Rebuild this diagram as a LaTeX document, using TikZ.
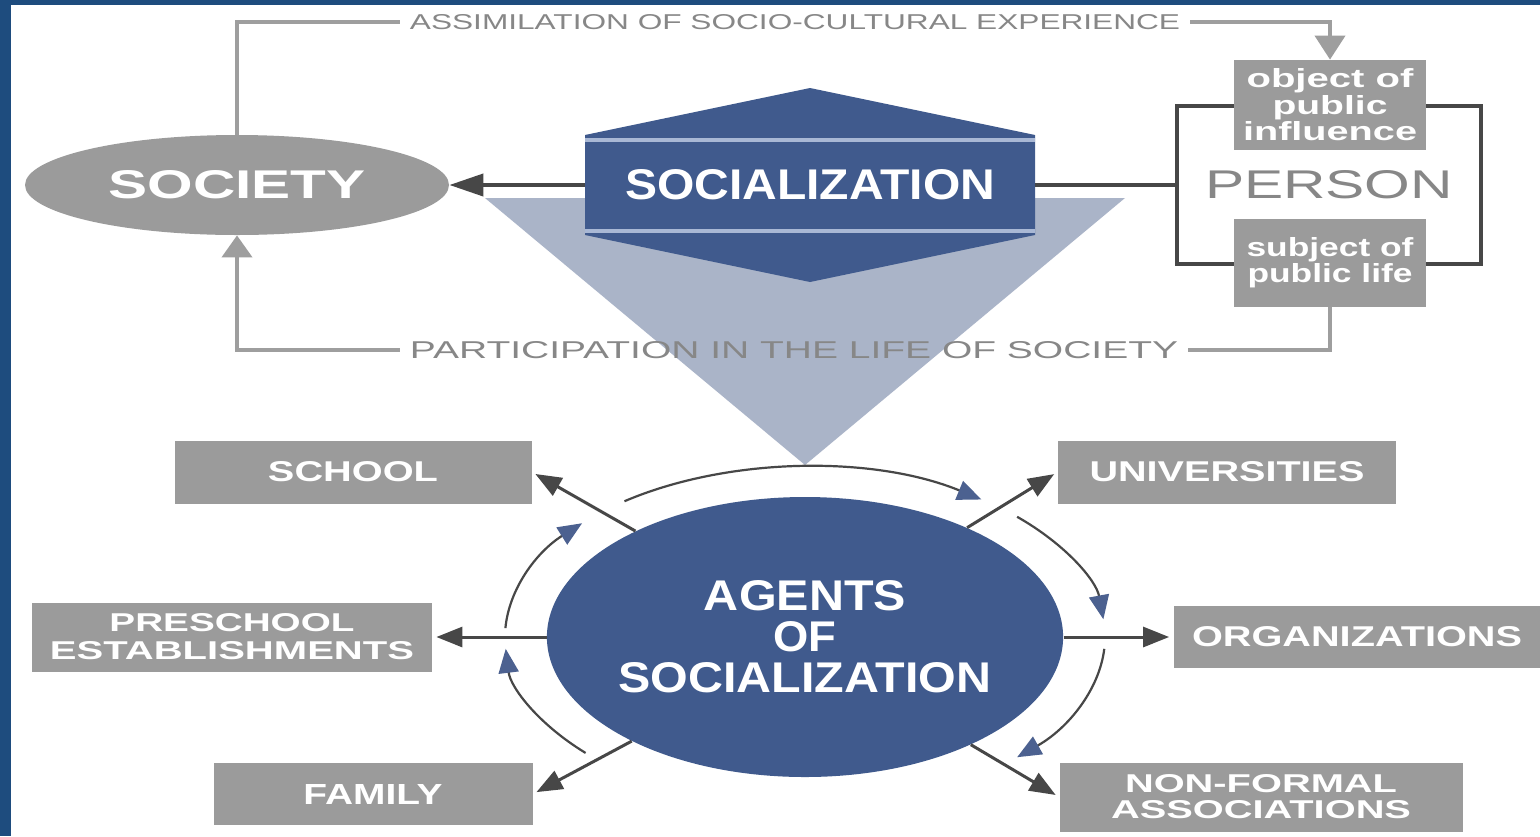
\documentclass[tikz,border=0pt]{standalone}
\usepackage{fontspec}
\setmainfont{Liberation Sans}
\usepackage{graphicx}
\usepackage{xcolor}
\usetikzlibrary{arrows.meta}
\usetikzlibrary{shapes.geometric}
\usetikzlibrary{calc}

\definecolor{frameblue}{HTML}{1E4C7E}
\definecolor{agentblue}{HTML}{405A8D}
\definecolor{stripeblue}{HTML}{A9B8D5}
\definecolor{conegrey}{HTML}{AAB4C8}
\definecolor{boxgrey}{HTML}{9B9B9B}
\definecolor{linegrey}{HTML}{9E9E9E}
\definecolor{txtgrey}{HTML}{878787}
\definecolor{arrowgrey}{HTML}{474747}
\definecolor{tipblue}{HTML}{4C6190}

\newlength{\unitpx}
\setlength{\unitpx}{0.5pt}
\newcommand{\fitlabel}[3]{\resizebox{#1\unitpx}{#2\unitpx}{#3}}

\begin{document}
\begin{tikzpicture}[x=0.5pt, y=-0.5pt,
    greybox/.style={fill=boxgrey, text=white, inner sep=0pt, align=center, font=\bfseries},
    feedline/.style={linegrey, line width=2pt},
    agentarrow/.style={arrowgrey, line width=1.5pt, -{Triangle[length=13pt, width=10pt]}, shorten >=2pt},
    cyclearrow/.style={arrowgrey, line width=1.1pt, -{Triangle[length=12pt, width=10pt, color=tipblue]}}]
					% frame
					\fill[frameblue] (0,0) rectangle (1540,836);
					\fill[white] (11,5) rectangle (1540,836);
					\useasboundingbox (0,0) rectangle (1540,836);
					
					% cone
					\fill[conegrey] (485,198) -- (1125,198) -- (805,465) -- cycle;
					
					% socialization
					\fill[agentblue] (585,135) -- (810,88) -- (1035,135) -- (1035,235) -- (810,282) -- (585,235) -- cycle;
					\draw[stripeblue, line width=2pt] (585,140) -- (1035,140) (585,231) -- (1035,231);
					\node[minimum width=450\unitpx, minimum height=100\unitpx, text=white, font=\bfseries] (socialization) at (810,185) {\fitlabel{370}{30}{SOCIALIZATION}};
					
					% society and person
					\node[ellipse, fill=boxgrey, minimum width=424\unitpx, minimum height=100\unitpx, inner sep=0pt, text=white, font=\bfseries] (society) at (237,185) {\fitlabel{257}{28}{SOCIETY}};
					\node[draw=arrowgrey, line width=2pt, minimum width=304\unitpx, minimum height=158\unitpx, text=txtgrey] (person) at (1329,185) {\fitlabel{248}{28}{PERSON}};
					\node[greybox, minimum width=192\unitpx, minimum height=90\unitpx, font={\bfseries\fontsize{10}{13.25}\selectfont}] (object) at (1330,105) {\fitlabel{167}{19}{object of}\\\fitlabel{115}{19}{public}\\\fitlabel{174}{19}{influence}};
					\node[greybox, minimum width=192\unitpx, minimum height=88\unitpx, font={\bfseries\fontsize{10}{13}\selectfont}] (subject) at (1330,263) {\fitlabel{167}{19}{subject of}\\\fitlabel{165}{19}{public life}};
					
					% add arrows
					\draw[arrowgrey, line width=2pt, -{Triangle[length=17pt, width=11pt]}] (socialization.west) -- (society.east);
					\draw[arrowgrey, line width=2pt] (socialization.east) -- (person.west);
					
					% feedback loops
					\node[text=txtgrey, inner xsep=5pt] (assim) at (795,22) {\fitlabel{770}{15}{ASSIMILATION OF SOCIO-CULTURAL EXPERIENCE}};
					\node[text=txtgrey, inner xsep=5pt] (partic) at (794,350) {\fitlabel{768}{17}{PARTICIPATION IN THE LIFE OF SOCIETY}};
					\draw[feedline] (society.north) |- (assim.west);
					\draw[feedline, -{Triangle[length=12pt, width=15pt]}] (assim.east) -| (object.north);
					\draw[feedline] (subject.south) |- (partic.east);
					\draw[feedline, -{Triangle[length=11pt, width=15pt]}] (partic.west) -| (society.south);
					
					% agents
					\node[ellipse, fill=agentblue, minimum width=516\unitpx, minimum height=280\unitpx, inner xsep=-2pt, inner ysep=0pt, text=white, align=center, font={\bfseries\fontsize{10}{20.5}\selectfont}] (agents) at (805,637) {\fitlabel{202}{30}{AGENTS}\\\fitlabel{63}{30}{OF}\\\fitlabel{373}{30}{SOCIALIZATION}};
					
					\node[greybox, minimum width=357\unitpx, minimum height=63\unitpx] (school) at (353,472) {\fitlabel{170}{20}{SCHOOL}};
					\node[greybox, minimum width=338\unitpx, minimum height=63\unitpx] (universities) at (1227,472) {\fitlabel{275}{20}{UNIVERSITIES}};
					\node[greybox, minimum width=400\unitpx, minimum height=69\unitpx, font={\bfseries\fontsize{10}{14}\selectfont}] (preschool) at (232,637) {\fitlabel{245}{18}{PRESCHOOL}\\\fitlabel{364}{18}{ESTABLISHMENTS}};
					\node[greybox, minimum width=367\unitpx, minimum height=62\unitpx] (organizations) at (1357,637) {\fitlabel{330}{20}{ORGANIZATIONS}};
					\node[greybox, minimum width=319\unitpx, minimum height=62\unitpx] (family) at (373,794) {\fitlabel{139}{20}{FAMILY}};
					\node[greybox, minimum width=403\unitpx, minimum height=69\unitpx, font={\bfseries\fontsize{10}{13}\selectfont}] (nonformal) at (1261,797) {\fitlabel{272}{18}{NON-FORMAL}\\\fitlabel{300}{18}{ASSOCIATIONS}};
					
					\draw[agentarrow] (agents.148) -- (school.east);
					\draw[agentarrow] (agents.34) -- (universities.west);
					\draw[agentarrow] (agents.west) -- (preschool.east);
					\draw[agentarrow] (agents.east) -- (organizations.west);
					\draw[agentarrow] (agents.211) -- (family.east);
					\draw[agentarrow] (agents.327) -- (nonformal.west);
					
					% arcs round the agents
					\draw[cyclearrow] (agents.center) ++(-127:300 and 170) arc[start angle=-127, end angle=-54, x radius=300, y radius=170];
					\draw[cyclearrow] (agents.center) ++(-45:300 and 170) arc[start angle=-45, end angle=-6, x radius=300, y radius=170];
					\draw[cyclearrow] (agents.center) ++(4:300 and 170) arc[start angle=4, end angle=45, x radius=300, y radius=170];
					\draw[cyclearrow] (agents.center) ++(137:300 and 170) arc[start angle=137, end angle=176, x radius=300, y radius=170];
					\draw[cyclearrow] (agents.center) ++(183:300 and 170) arc[start angle=183, end angle=222, x radius=300, y radius=170];
				\end{tikzpicture}
\end{document}
